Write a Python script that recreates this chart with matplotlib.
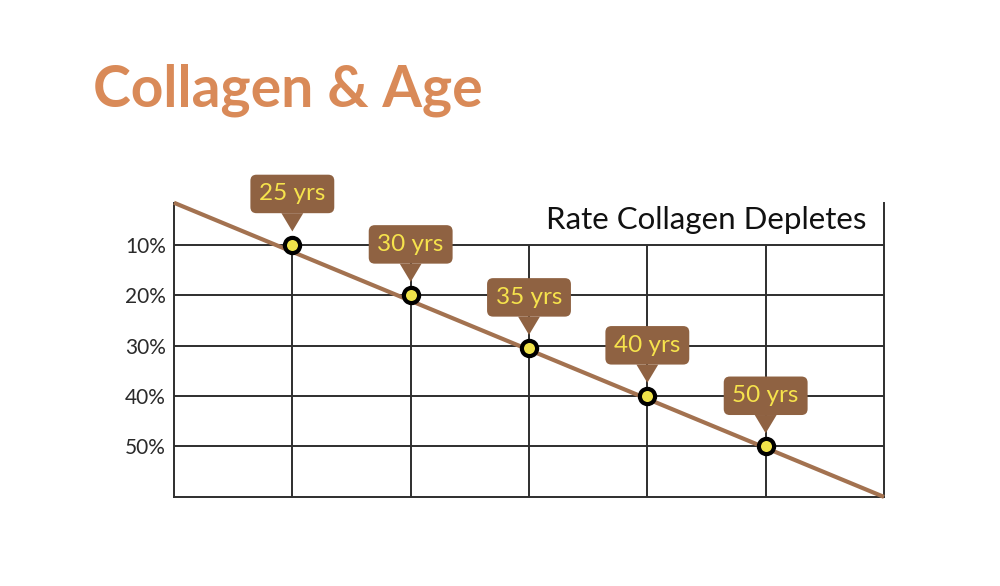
import matplotlib.pyplot as plt

# data
ages = ['25 yrs', '30 yrs', '35 yrs', '40 yrs', '50 yrs']
age_pos = [1, 2, 3, 4, 5]
depletion = [10, 20, 30.5, 40, 50]
trend_x = [0, 6]
trend_y = [1.7, 60]
ytick_vals = [10, 20, 30, 40, 50]
ytick_labels = ['10%', '20%', '30%', '40%', '50%']

plt.rcParams['font.family'] = ['Lato', 'DejaVu Sans']

brown_line = '#a37250'
box_brown = '#8f6242'
label_yellow = '#f6e34c'
dot_yellow = '#efe24a'
grid_col = '#2e2e2e'

fig = plt.figure(figsize=(10, 5.86), dpi=100)
ax = fig.add_axes([0.174, 0.152, 0.710, 0.502])

ax.set_xlim(0, 6)
ax.set_ylim(60, 1.7)

ax.set_xticks([])
ax.set_yticks(ytick_vals)
ax.set_yticklabels(ytick_labels, fontsize=15, color='#2a2a2a')
ax.tick_params(length=0, pad=6)
ax.grid(True, axis='y', color=grid_col, linewidth=1.4)
# vertical grid only runs from the first row down
ax.vlines(age_pos, ytick_vals[0], 60, color=grid_col, linewidth=1.4, zorder=1)
ax.set_axisbelow(True)

for side in ['left', 'bottom', 'right']:
    ax.spines[side].set_color(grid_col)
    ax.spines[side].set_linewidth(1.4)
ax.spines['top'].set_visible(False)

ax.plot(trend_x, trend_y, color=brown_line, linewidth=3, solid_capstyle='butt',
        zorder=3, clip_on=False)
ax.scatter(age_pos, depletion, s=120, facecolor=dot_yellow, edgecolor='black',
           linewidth=3, zorder=4)

for x, y, lab in zip(age_pos, depletion, ages):
    ax.annotate(lab, xy=(x, y), xytext=(0, 36.5), textcoords='offset points',
                ha='center', va='center', fontsize=17.5, color=label_yellow,
                bbox=dict(boxstyle='round,pad=0.36,rounding_size=0.25',
                          fc=box_brown, ec='none'),
                arrowprops=dict(arrowstyle='wedge,tail_width=0.9,shrink_factor=0.5',
                                fc=box_brown, ec='none', shrinkA=0, shrinkB=9.5),
                zorder=5)

ax.text(0.975, 0.942, 'Rate Collagen Depletes', transform=ax.transAxes,
        ha='right', va='center', fontsize=22.5, color='#111111', zorder=6)

fig.text(0.093, 0.846, 'Collagen & Age', fontsize=41, fontweight='bold',
         color='#d98a58', ha='left', va='center')

plt.savefig('out.png', dpi=100)
